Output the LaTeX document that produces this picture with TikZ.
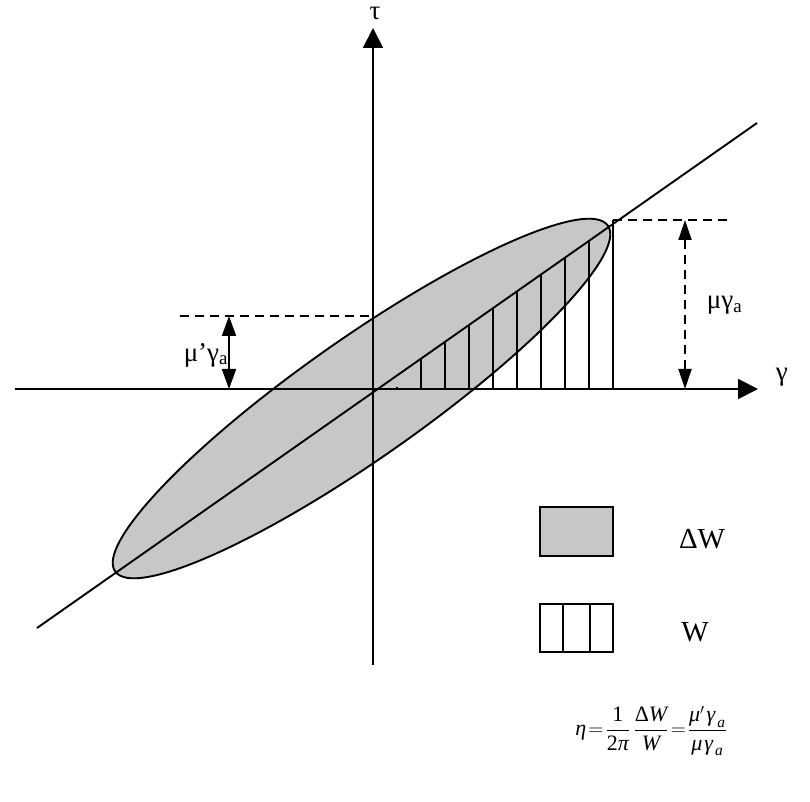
\documentclass[tikz,border=0pt]{standalone}
\usepackage{amsmath}
\usepackage{fontspec}
\setmainfont{Liberation Serif}
\usetikzlibrary{arrows.meta}

\newcommand{\mi}[1]{\text{\itshape #1}}

\begin{document}
\begin{tikzpicture}[
  x=1pt, y=1pt,
  line width=1.9pt,
  axis/.style={
    -{Triangle[length=20pt, width=20pt]}
  },
  dim/.style={
    {Triangle[length=20pt, width=#1]}-{Triangle[length=20pt, width=#1]}
  },
  guide/.style={
    dash pattern=on 9pt off 6pt
  },
  area/.style={
    draw, fill=black!22
  },
  lbl/.style={
    font=\fontsize{27}{32}\selectfont, inner sep=0pt
  },
  key/.style={
    font=\fontsize{29}{34}\selectfont, inner sep=0pt
  }
]
\useasboundingbox (0,0) rectangle (810,801);

% Loop
\coordinate (mid) at (361.5,402.5);
\draw[area, rotate around={35.06:(mid)}] (mid) ellipse [x radius=301, y radius=60];

% Stored energy strips
\fill (397,413) circle (1.3);
\foreach \x in {421,445,...,589}
  \draw (\x,412) -- (\x,{173+0.7014*(\x-37)});
\coordinate (wtop) at (613,581);
\draw (613,412) -- (wtop);

% Axes and line
\coordinate (xl) at (15,412);
\coordinate (xr) at (758,412);
\coordinate (yb) at (373,136);
\coordinate (yt) at (373,773);
\draw[axis] (xl) -- (xr);
\draw[axis] (yb) -- (yt);
\coordinate (d1) at (37,173);
\coordinate (d2) at (757,678);
\draw (d1) -- (d2);

\node[lbl, anchor=base] (tau) at (375,781) {τ};
\node[lbl, anchor=base west] (gam) at (775,420) {γ};

% Amplitudes
\coordinate (ur) at (730,581);
\draw[guide] (wtop) -- (ur);
\coordinate (ua) at (685,581);
\coordinate (ub) at (685,412);
\draw[dim=13pt, guide] (ub) -- (ua);
\node[lbl, anchor=west] (mug) at (706,496) {μγ\textsubscript{a}};

\coordinate (ll) at (180,485);
\coordinate (lr) at (373,485);
\draw[guide] (ll) -- (lr);
\coordinate (la) at (229,485);
\coordinate (lb) at (229,412);
\draw[dim=14pt] (lb) -- (la);
\node[lbl, anchor=east] (mupg) at (229,446) {μ’γ\textsubscript{a}};

% Legend
\node[area, minimum width=73, minimum height=49, inner sep=0pt] (dwbox) at (576.5,269.5) {};
\node[key] (dwtxt) at (702,262) {ΔW};
\node[draw, minimum width=73, minimum height=48, inner sep=0pt] (wbox) at (576.5,173) {};
\draw ([xshift=24.3pt]wbox.south west) -- ([xshift=24.3pt]wbox.north west);
\draw ([xshift=-24.3pt]wbox.south east) -- ([xshift=-24.3pt]wbox.north east);
\node[key] (wtxt) at (695,169) {W};

% Loss factor
\node[inner sep=0pt] (eta) at (651,70)
  {\fontsize{22}{26}\selectfont$\displaystyle \mi{η}\!=\!\frac{\text{1}}{\text{2}\mi{π}}\,\frac{\text{Δ}\mi{W}}{\mi{W}}\!=\!\frac{\mi{μ}'\hspace{2pt}\mi{γ}_{\hspace{2pt}\mi{a}}}{\mi{μ}\hspace{2pt}\mi{γ}_{\hspace{2pt}\mi{a}}}$};

\end{tikzpicture}
\end{document}
